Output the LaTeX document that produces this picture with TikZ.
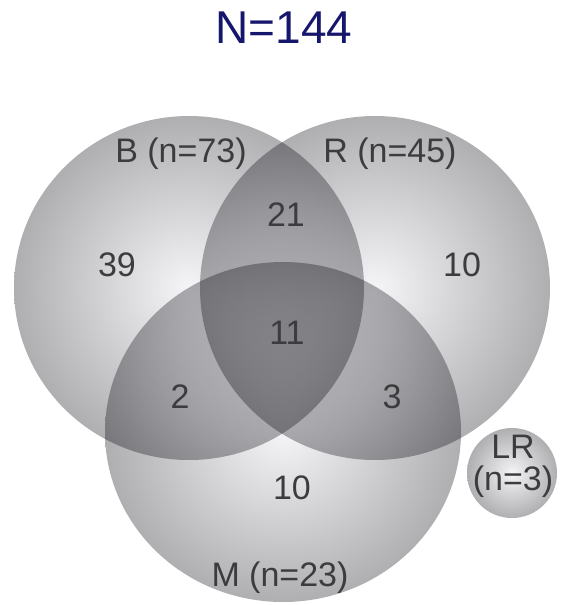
\documentclass[tikz,border=0pt]{standalone}
\usepackage{fontspec}
\setmainfont{Liberation Sans}
\usepackage{tikz}

\definecolor{titleblue}{RGB}{22,22,108}
\definecolor{labelgray}{RGB}{60,60,62}
\definecolor{rimgray}{RGB}{175,175,178}
\definecolor{coregray}{RGB}{245,245,247}
\tikzset{
  setshade/.style={inner color=coregray,outer color=rimgray},
  setlabel/.style={text=labelgray,inner sep=0pt,font=\fontsize{17}{16}\selectfont},
  titlelabel/.style={text=titleblue,inner sep=0pt,font=\fontsize{23}{23}\selectfont}
}

\begin{document}
\begin{tikzpicture}[x=0.5pt,y=-0.5pt]
\useasboundingbox (0,0) rectangle (565,605);
\begin{scope}[blend mode=multiply]
\shade[setshade](189,288) ellipse [x radius=87.5pt,y radius=86pt];
\shade[setshade](375,288) ellipse [x radius=87.5pt,y radius=86pt];
\shade[setshade](283,432) ellipse [x radius=89pt,y radius=85pt];
\shade[setshade](512,473) circle (22.5pt);
\end{scope}
\node[titlelabel] (title) at (284,28) {N=144};
\node[setlabel] (blabel) at (181,154) {B (n=73)};
\node[setlabel] (rlabel) at (390,154) {R (n=45)};
\node[setlabel] (mlabel) at (280,578) {M (n=23)};
\node[setlabel,align=center] (lrlabel) at (513,466) {LR\\(n=3)};
\node[setlabel] (bonly) at (117,265) {39};
\node[setlabel] (ronly) at (462,265) {10};
\node[setlabel] (monly) at (292,488) {10};
\node[setlabel] (brpart) at (286,215) {21};
\node[setlabel] (bmpart) at (180,397) {2};
\node[setlabel] (rmpart) at (392,397) {3};
\node[setlabel] (allpart) at (287,333) {11};
\end{tikzpicture}
\end{document}
